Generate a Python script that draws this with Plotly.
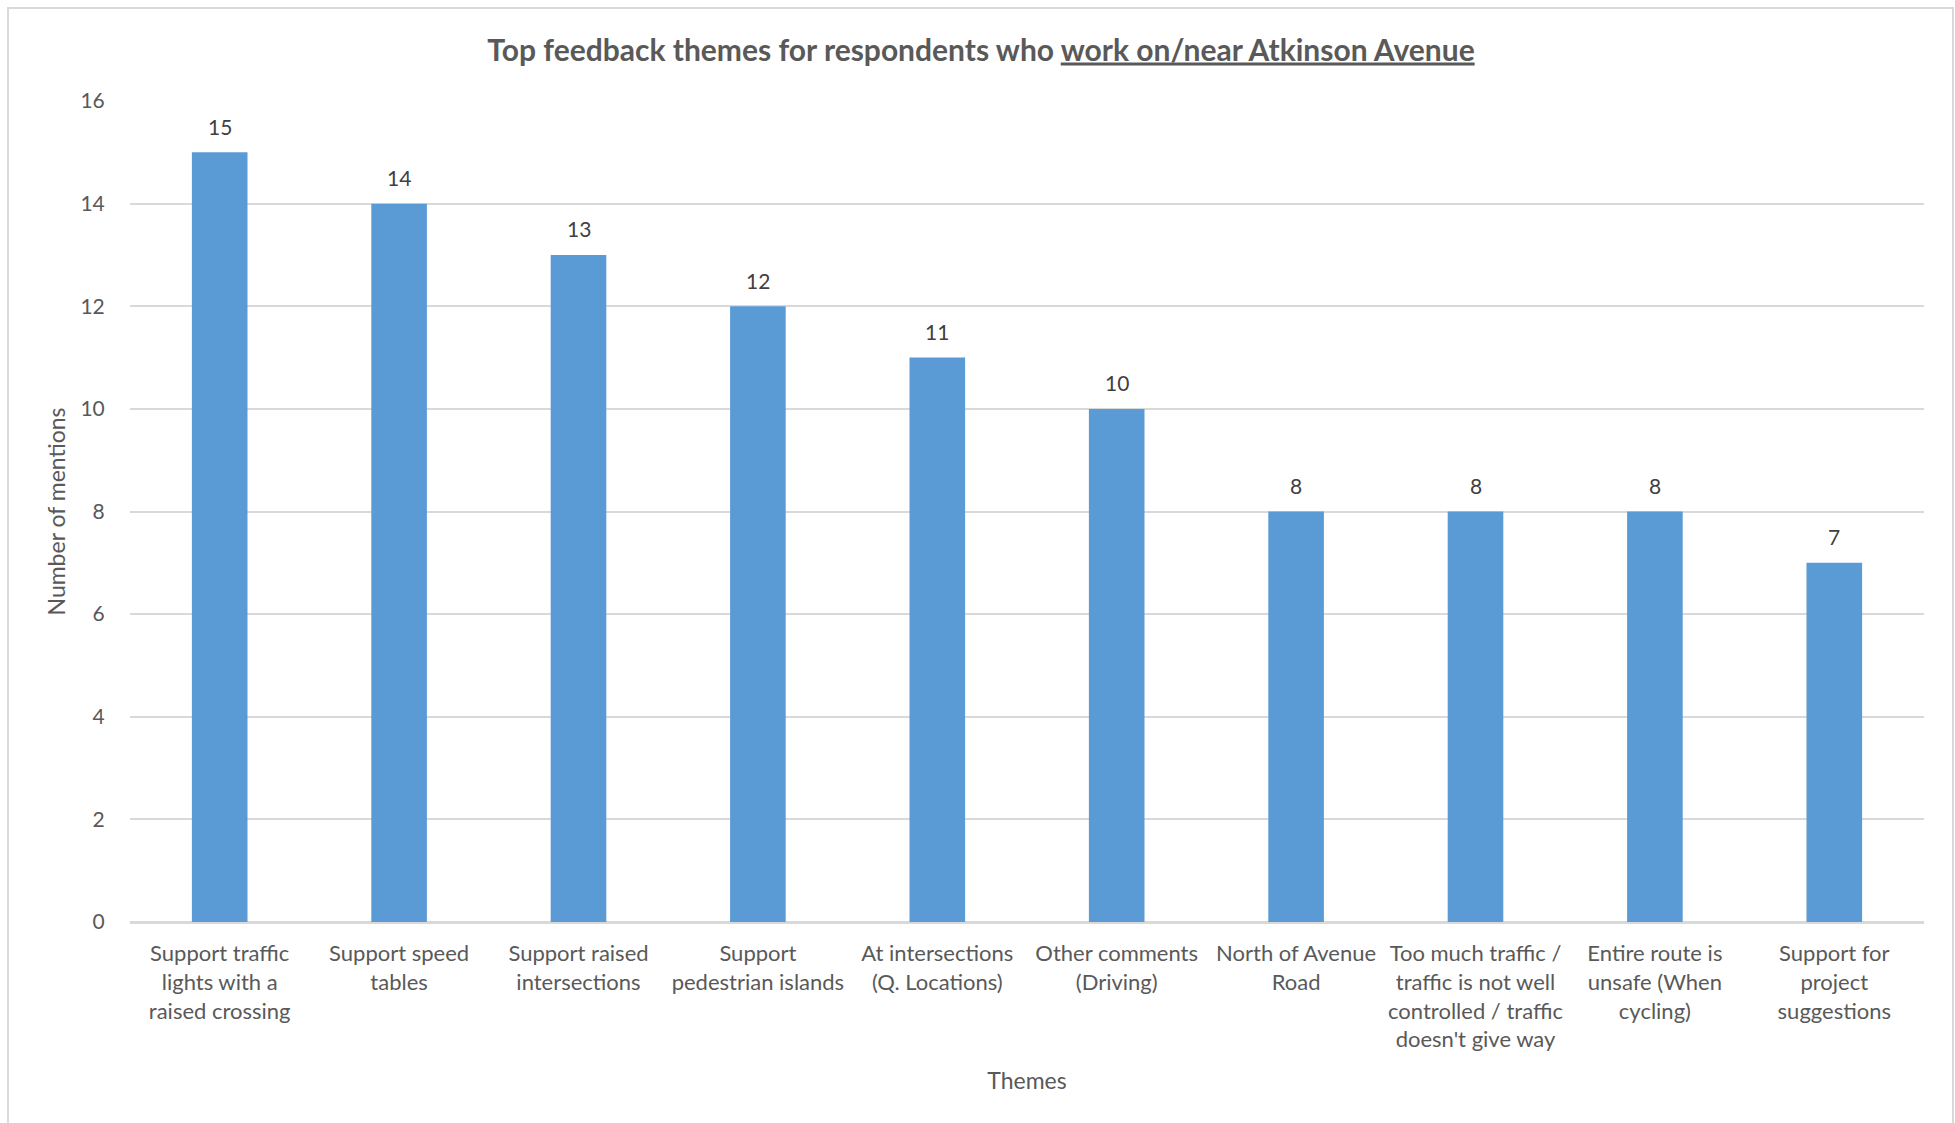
import plotly.graph_objects as go

categories = [
    "Support traffic<br>lights with a<br>raised crossing",
    "Support speed<br>tables",
    "Support raised<br>intersections",
    "Support<br>pedestrian islands",
    "At intersections<br>(Q. Locations)",
    "Other comments<br>(Driving)",
    "North of Avenue<br>Road",
    "Too much traffic /<br>traffic is not well<br>controlled / traffic<br>doesn't give way",
    "Entire route is<br>unsafe (When<br>cycling)",
    "Support for<br>project<br>suggestions",
]
mentions = [15, 14, 13, 12, 11, 10, 8, 8, 8, 7]
y_ticks = [0, 2, 4, 6, 8, 10, 12, 14, 16]

W, H = 1955, 1123
L, R, T, B = 130, 31, 101, 201
pw, ph = W - L - R, H - T - B

FONT = "Lato"
TXT = "#595959"
GRID = "#D9D9D9"

fig = go.Figure()
fig.add_trace(go.Bar(
    x=categories, y=mentions,
    marker=dict(color="#5B9BD5", line=dict(width=0)),
    hoverinfo="skip",
))

for c, v in zip(categories, mentions):
    fig.add_annotation(x=c, y=v, text=str(v), showarrow=False,
                       yanchor="middle", yshift=26,
                       font=dict(family=FONT, size=21, color="#404040"))

def px_x(p):
    return (p - L) / pw

def px_y(p):
    return (H - B - p) / ph

fig.add_shape(type="rect", xref="paper", yref="paper",
              x0=px_x(8), x1=px_x(1953), y0=px_y(1124), y1=px_y(8),
              line=dict(color=GRID, width=2), fillcolor="rgba(0,0,0,0)", layer="below")

fig.update_layout(
    width=W, height=H,
    margin=dict(l=L, r=R, t=T, b=B),
    paper_bgcolor="white", plot_bgcolor="white",
    bargap=0.69,
    showlegend=False,
    title=dict(
        text="<b>Top feedback themes for respondents who <u>work on/near Atkinson Avenue</u></b>",
        x=(981 / W), xanchor="center", y=1 - 50 / H, yanchor="middle",
        font=dict(family=FONT, size=30, color=TXT),
    ),
    font=dict(family=FONT, color=TXT),
    xaxis=dict(
        showgrid=False, showline=True, linecolor=GRID, linewidth=2,
        ticks="outside", ticklen=11, tickcolor="rgba(0,0,0,0)",
        tickfont=dict(family=FONT, size=22, color=TXT),
        tickangle=0,
        title=dict(text="Themes", font=dict(family=FONT, size=23, color=TXT), standoff=22),
    ),
    yaxis=dict(
        range=[0, 16], tickvals=y_ticks,
        showgrid=True, gridcolor=GRID, gridwidth=1.5,
        zeroline=True, zerolinecolor=GRID, zerolinewidth=2,
        showline=False,
        ticks="outside", ticklen=20, tickcolor="rgba(0,0,0,0)",
        tickfont=dict(family=FONT, size=21, color=TXT),
        title=dict(text="Number of mentions", font=dict(family=FONT, size=23, color=TXT), standoff=8),
    ),
)

fig.write_html("out.html")
